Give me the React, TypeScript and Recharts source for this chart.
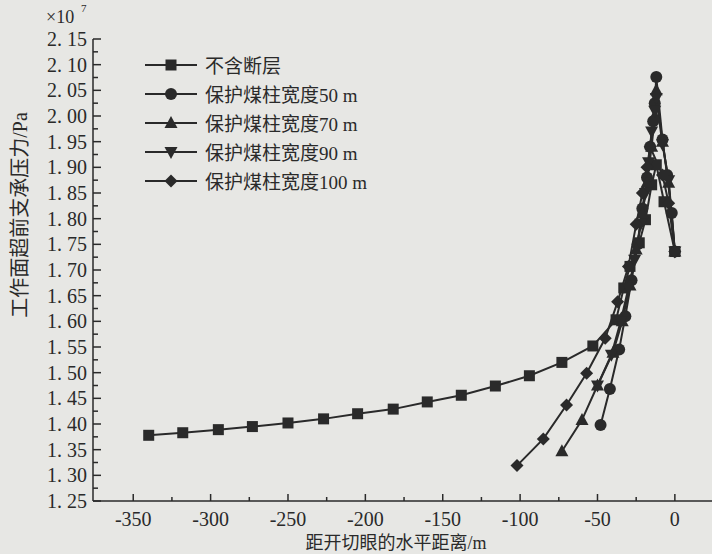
import { Label, Legend, Line, LineChart, XAxis, YAxis } from "recharts";

const INK = "#2a2a2a";
const PAPER = "#e7e7e4";
const SERIF = '"Liberation Serif", "Noto Sans CJK SC", serif';

// distance from the open-off cut (m) and abutment pressure (x1e7 Pa)
const distNoFault = [-340, -318, -295, -273, -250, -227, -205, -182, -160, -138, -116, -94, -73, -53, -38, -33, -29, -23, -19, -15, -12, -7, 0];
const pressNoFault = [1.378, 1.383, 1.389, 1.395, 1.402, 1.41, 1.42, 1.429, 1.443, 1.456, 1.474, 1.494, 1.52, 1.552, 1.603, 1.665, 1.707, 1.753, 1.798, 1.866, 1.905, 1.833, 1.736];

const dist50 = [-48, -42, -36, -32, -28, -24, -21, -18, -16, -14, -13, -12, -8, -5, -2, 0];
const press50 = [1.398, 1.468, 1.545, 1.61, 1.68, 1.75, 1.82, 1.88, 1.94, 1.99, 2.025, 2.076, 1.954, 1.885, 1.811, 1.736];

const dist70 = [-73, -60, -50, -40, -34, -29, -25, -21, -18, -15, -13, -12, -8, -4, 0];
const press70 = [1.347, 1.408, 1.475, 1.539, 1.6, 1.67, 1.74, 1.81, 1.87, 1.94, 2.0, 2.05, 1.95, 1.87, 1.736];

const dist90 = [-50, -41, -35, -30, -26, -22, -19, -17, -15, -13, -12, -8, -4, 0];
const press90 = [1.475, 1.535, 1.6, 1.665, 1.72, 1.79, 1.85, 1.91, 1.97, 2.01, 2.035, 1.945, 1.875, 1.736];

const dist100 = [-102, -85, -70, -57, -45, -37, -30, -25, -21, -18, -16, -8, -4, 0];
const press100 = [1.319, 1.371, 1.437, 1.499, 1.567, 1.638, 1.707, 1.789, 1.85, 1.9, 1.94, 1.885, 1.83, 1.736];

const xTicks = [-350, -325, -300, -275, -250, -225, -200, -175, -150, -125, -100, -75, -50, -25, 0];
const yTicks = [
  1.25, 1.275, 1.3, 1.325, 1.35, 1.375, 1.4, 1.425, 1.45, 1.475, 1.5, 1.525, 1.55, 1.575, 1.6, 1.625, 1.65, 1.675, 1.7,
  1.725, 1.75, 1.775, 1.8, 1.825, 1.85, 1.875, 1.9, 1.925, 1.95, 1.975, 2.0, 2.025, 2.05, 2.075, 2.1, 2.125, 2.15,
];

const seriesNames = ["不含断层", "保护煤柱宽度50 m", "保护煤柱宽度70 m", "保护煤柱宽度90 m", "保护煤柱宽度100 m"];
const seriesMarks = ["square", "circle", "triangle", "triangleDown", "diamond"];

const toPoints = (xs: number[], ys: number[]) => xs.map((x, i) => ({ x, y: ys[i] }));

const series = [
  toPoints(distNoFault, pressNoFault),
  toPoints(dist50, press50),
  toPoints(dist70, press70),
  toPoints(dist90, press90),
  toPoints(dist100, press100),
];

function Marker({ kind, cx, cy }: { kind: string; cx: number; cy: number }) {
  if (cx == null || cy == null) return null;
  if (kind === "square") {
    return <rect x={cx - 5.5} y={cy - 5.5} width={11} height={11} fill={INK} />;
  }
  if (kind === "circle") {
    return <circle cx={cx} cy={cy} r={6} fill={INK} />;
  }
  if (kind === "triangle") {
    return <polygon points={`${cx},${cy - 7} ${cx + 6.5},${cy + 5} ${cx - 6.5},${cy + 5}`} fill={INK} />;
  }
  if (kind === "triangleDown") {
    return <polygon points={`${cx},${cy + 7} ${cx + 6.5},${cy - 5} ${cx - 6.5},${cy - 5}`} fill={INK} />;
  }
  return <polygon points={`${cx},${cy - 6.5} ${cx + 6.5},${cy} ${cx},${cy + 6.5} ${cx - 6.5},${cy}`} fill={INK} />;
}

function XTick(props: any) {
  const { x, y, payload } = props;
  const v = payload.value as number;
  const major = v % 50 === 0;
  return (
    <g>
      <line x1={x} x2={x} y1={y} y2={y - (major ? 7 : 4)} stroke={INK} strokeWidth={1.5} />
      {major && (
        <text x={x} y={y + 25} textAnchor="middle" fontSize={20} fill={INK} fontFamily={SERIF}>
          {v}
        </text>
      )}
    </g>
  );
}

function YTick(props: any) {
  const { x, y, payload } = props;
  const v = payload.value as number;
  const major = Math.round(v * 1000) % 50 === 0;
  const [whole, frac] = v.toFixed(2).split(".");
  return (
    <g>
      <line x1={x} x2={x + (major ? 8 : 5)} y1={y} y2={y} stroke={INK} strokeWidth={1.5} />
      {major && (
        <text x={x - 6} y={y} dy="0.35em" textAnchor="end" fontSize={20} fill={INK} fontFamily={SERIF}>
          <tspan>{whole}.</tspan>
          <tspan dx={5}>{frac}</tspan>
        </text>
      )}
    </g>
  );
}

function LegendBox() {
  return (
    <div style={{ fontFamily: SERIF, color: INK, fontSize: 19 }}>
      {seriesNames.map((name, i) => (
        <div key={name} style={{ display: "flex", alignItems: "center", height: 29 }}>
          <svg width={60} height={20} style={{ display: "block" }}>
            <line x1={2} x2={54} y1={10} y2={10} stroke={INK} strokeWidth={2} />
            <Marker kind={seriesMarks[i]} cx={28} cy={10} />
          </svg>
          <span style={{ marginLeft: 2, whiteSpace: "pre" }}>{name}</span>
        </div>
      ))}
    </div>
  );
}

export default function App() {
  return (
    <div style={{ width: 712, height: 554, background: PAPER, position: "relative" }}>
      <style>{`body{margin:0;background:${PAPER};}`}</style>
      <LineChart width={712} height={554} margin={{ top: 39, right: 0, bottom: 0, left: 0 }}>
        <XAxis
          type="number"
          dataKey="x"
          domain={[-376, 24]}
          allowDataOverflow
          ticks={xTicks}
          interval={0}
          height={53}
          tickSize={0}
          tickMargin={0}
          tickLine={false}
          axisLine={{ stroke: INK, strokeWidth: 1.5 }}
          tick={<XTick />}
        >
          <Label
            content={() => (
              <text x={396} y={549} textAnchor="middle" fontSize={18} fill={INK} fontFamily={SERIF}>
                距开切眼的水平距离/m
              </text>
            )}
          />
        </XAxis>
        <YAxis
          type="number"
          domain={[1.25, 2.15]}
          allowDataOverflow
          ticks={yTicks}
          interval={0}
          width={93}
          tickSize={0}
          tickMargin={0}
          tickLine={false}
          axisLine={{ stroke: INK, strokeWidth: 1.5 }}
          tick={<YTick />}
        >
          <Label
            content={() => (
              <g>
                <text
                  x={20}
                  y={215}
                  transform="rotate(-90, 20, 215)"
                  textAnchor="middle"
                  dominantBaseline="central"
                  fontSize={20}
                  fill={INK}
                  fontFamily={SERIF}
                >
                  工作面超前支承压力/Pa
                </text>
                <text x={46} y={23} fontSize={18} fill={INK} fontFamily={SERIF}>
                  ×10
                </text>
                <text x={81} y={12} fontSize={11} fill={INK} fontFamily={SERIF}>
                  7
                </text>
              </g>
            )}
          />
        </YAxis>
        <Legend
          layout="vertical"
          align="center"
          verticalAlign="middle"
          wrapperStyle={{ left: 143, top: 50, width: "auto" }}
          content={() => <LegendBox />}
        />
        {series.map((data, i) => (
          <Line
            key={seriesNames[i]}
            data={data}
            dataKey="y"
            name={seriesNames[i]}
            type="linear"
            stroke={INK}
            strokeWidth={2}
            isAnimationActive={false}
            activeDot={false}
            dot={(p: any) => <Marker key={`${i}-${p.index}`} kind={seriesMarks[i]} cx={p.cx} cy={p.cy} />}
          />
        ))}
      </LineChart>
    </div>
  );
}
